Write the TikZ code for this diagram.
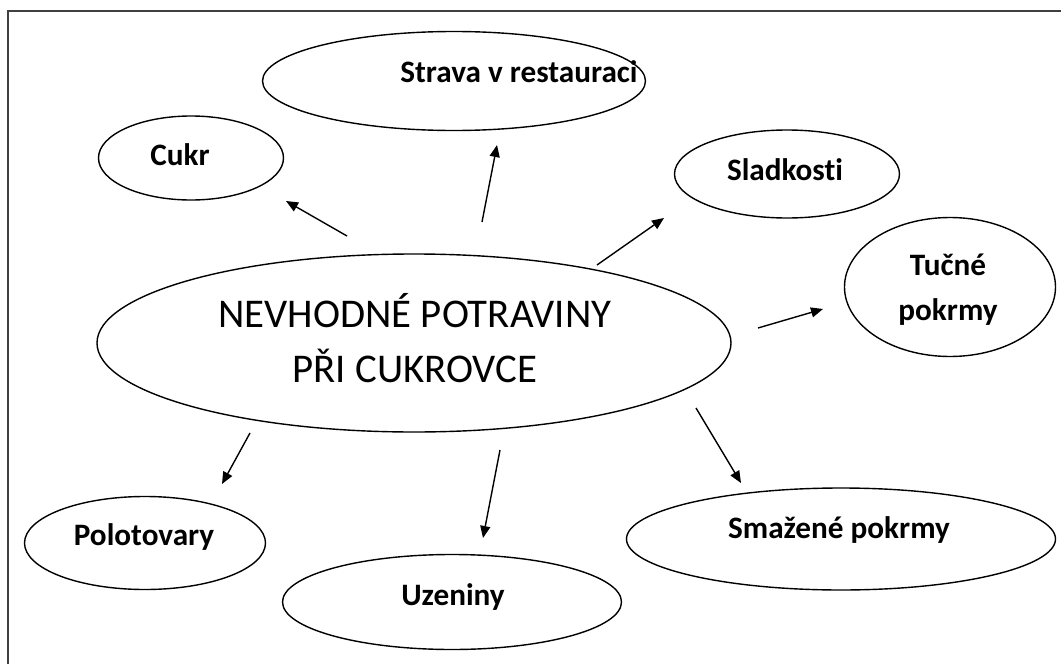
\documentclass[tikz,border=0pt]{standalone}
\usepackage{fontspec}
\setmainfont{Carlito}[Ligatures=NoCommon]
\usetikzlibrary{arrows.meta,shapes.geometric}
\tikzset{
  bubble/.style={draw, ellipse, line width=0.7pt, inner sep=0pt},
  lbl/.style={font=\fontsize{15.6pt}{22.5pt}\selectfont\bfseries, inner sep=0pt, anchor=base},
  arr/.style={-{Triangle[length=6pt,width=5pt]}, line width=0.7pt}
}
\begin{document}
\begin{tikzpicture}[x=0.5pt, y=-0.5pt]
  \useasboundingbox (0,0) rectangle (1061,664);
  % frame
  \draw[line width=1pt, black!75] (8,664) -- (8,11) -- (1061,11);
  % centre
  \node[bubble, minimum width=317pt, minimum height=178pt/2] (core) at (414,343) {};
  \node[font=\fontsize{20.4pt}{27.5pt}\selectfont, align=center, inner sep=0pt] (core-t) at (415,338)
    {NEVHODNÉ POTRAVINY\\PŘI CUKROVCE};
  % outer bubbles
  \node[bubble, minimum width=185pt/2, minimum height=84pt/2] (cukr) at (191,158) {};
  \node[lbl] (cukr-t) at (180,165) {Cukr};
  \node[bubble, minimum width=383pt/2, minimum height=99pt/2] (strava) at (454,81) {};
  \node[lbl] (strava-t) at (519,82) {Strava v restauraci};
  \node[bubble, minimum width=225pt/2, minimum height=88pt/2] (sladk) at (787,174) {};
  \node[lbl] (sladk-t) at (785,180) {Sladkosti};
  \node[bubble, minimum width=211pt/2, minimum height=139pt/2] (tucne) at (950,287) {};
  \node[lbl, anchor=center, align=center] (tucne-t) at (948,290) {Tučné\\pokrmy};
  \node[bubble, minimum width=241pt/2, minimum height=93pt/2] (polot) at (145,543) {};
  \node[lbl] (polot-t) at (144,545) {Polotovary};
  \node[bubble, minimum width=339pt/2, minimum height=95pt/2] (uzen) at (452,602) {};
  \node[lbl] (uzen-t) at (453,605) {Uzeniny};
  \node[bubble, minimum width=429pt/2, minimum height=102pt/2] (smaz) at (841,539) {};
  \node[lbl] (smaz-t) at (839,538) {Smažené pokrmy};
  % arrow ends
  \coordinate (a1) at (347,236); \coordinate (b1) at (286,201);
  \coordinate (a2) at (482,222); \coordinate (b2) at (497,145);
  \coordinate (a3) at (597,265); \coordinate (b3) at (664,218);
  \coordinate (a4) at (758,328); \coordinate (b4) at (823,309);
  \coordinate (a5) at (250,433); \coordinate (b5) at (222,484);
  \coordinate (a6) at (500,450); \coordinate (b6) at (483,538);
  \coordinate (a7) at (696,408); \coordinate (b7) at (741,483);
  \draw[arr] (a1) -- (b1); \draw[arr] (a2) -- (b2);
  \draw[arr] (a3) -- (b3); \draw[arr] (a4) -- (b4);
  \draw[arr] (a5) -- (b5); \draw[arr] (a6) -- (b6);
  \draw[arr] (a7) -- (b7);
\end{tikzpicture}
\end{document}
